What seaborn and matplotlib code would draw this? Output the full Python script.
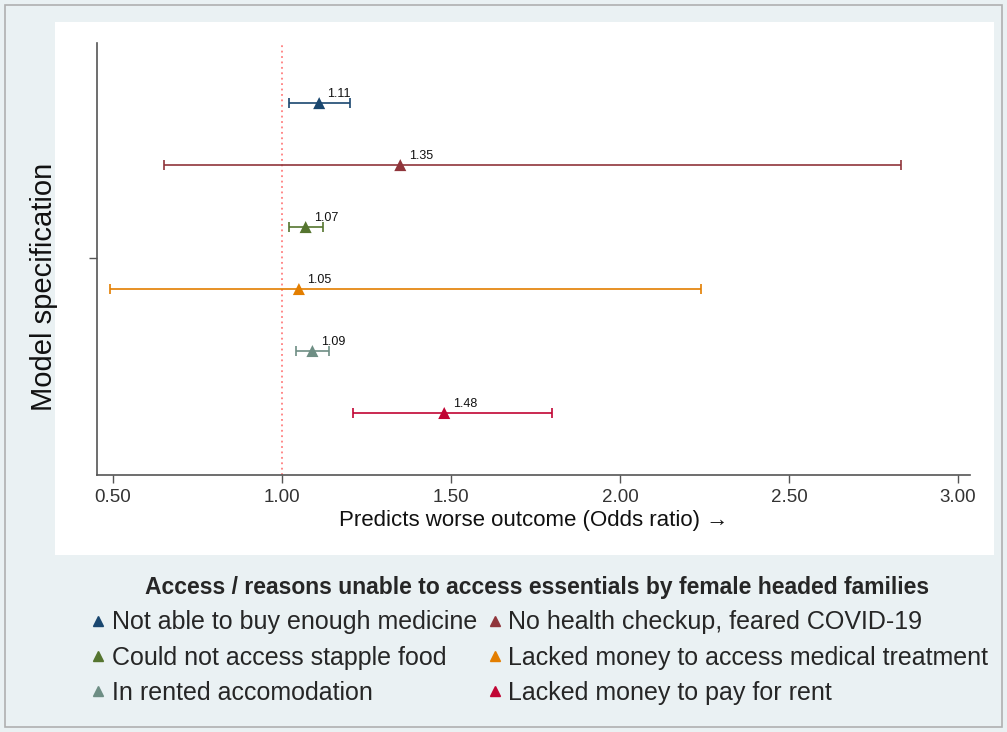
import matplotlib.pyplot as plt
import matplotlib.patches as mpatches
from matplotlib.lines import Line2D
import pandas as pd
import seaborn as sns

categories = ['Not able to buy enough medicine', 'No health checkup, feared COVID-19',
              'Could not access stapple food', 'Lacked money to access medical treatment',
              'In rented accomodation', 'Lacked money to pay for rent']
odds = [1.11, 1.35, 1.07, 1.05, 1.09, 1.48]
ci_low = [1.02, 0.65, 1.02, 0.49, 1.04, 1.21]
ci_high = [1.20, 2.83, 1.12, 2.24, 1.14, 1.80]
colors = ['#1a476f', '#90353b', '#55752f', '#e37e00', '#6e8e84', '#c10534']
xticks = [0.5, 1.0, 1.5, 2.0, 2.5, 3.0]

df = pd.DataFrame({'cat': categories, 'or': odds, 'lo': ci_low, 'hi': ci_high,
                   'row': range(1, len(categories) + 1)})

sns.set_style('white')
plt.rcParams['font.family'] = ['Liberation Sans', 'DejaVu Sans']

fig = plt.figure(figsize=(10.07, 7.32), dpi=100, facecolor='#eaf1f3')
# white panel and outer frame
fig.patches.append(mpatches.Rectangle((55 / 1007, 1 - 555 / 732), 939 / 1007, 533 / 732,
                                      transform=fig.transFigure, facecolor='white',
                                      edgecolor='none', zorder=-2))
fig.patches.append(mpatches.Rectangle((5 / 1007, 5 / 732), 997 / 1007, 722 / 732,
                                      transform=fig.transFigure, facecolor='none',
                                      edgecolor='#b0b0b0', lw=1.2, zorder=-2))

ax = fig.add_axes([97 / 1007, 1 - 475 / 732, 873 / 1007, 432 / 732])
ax.set_facecolor('none')

ax.axvline(1.0, color='#ff7f7f', ls=(0, (1, 2)), lw=1.3, zorder=1)

for _, r in df.iterrows():
    c = colors[r['row'] - 1]
    ax.errorbar(r['or'], r['row'], xerr=[[r['or'] - r['lo']], [r['hi'] - r['or']]],
                fmt='none', ecolor=c, elinewidth=1.2, capsize=3.8, capthick=1.2, zorder=2)
    ax.annotate(f"{r['or']:.2f}", (r['or'], r['row']), xytext=(6, 2),
                textcoords='offset points', ha='left', va='bottom', fontsize=9,
                color='#111111')

sns.scatterplot(data=df, x='or', y='row', hue='cat', palette=colors, marker='^',
                s=75, edgecolor='none', legend=False, ax=ax, zorder=3)

ax.set_xlim(0.4527, 3.0355)
ax.set_ylim(7.0, 0.03)
ax.set_xticks(xticks)
ax.set_xticklabels([f'{t:.2f}' for t in xticks], fontsize=13.5, color='#333333')
ax.set_yticks([3.5])
ax.set_yticklabels([''])
ax.tick_params(axis='both', direction='out', length=6, width=1, color='#555555',
               bottom=True, left=True, pad=4)
for s in ['top', 'right']:
    ax.spines[s].set_visible(False)
for s in ['left', 'bottom']:
    ax.spines[s].set_color('#555555')
    ax.spines[s].set_linewidth(1.2)

ax.set_xlabel('Predicts worse outcome (Odds ratio) \u2192', fontsize=16, color='#111111',
              labelpad=3)
ax.set_ylabel('Model specification', fontsize=21, color='#111111')
ax.yaxis.set_label_coords(-0.045, 0.435)

order = [0, 2, 4, 1, 3, 5]
handles = [Line2D([], [], ls='none', marker='^', color=colors[i], markersize=7)
           for i in order]
labels = [categories[i] for i in order]
leg = fig.legend(handles, labels, ncol=2, loc='upper center',
                 bbox_to_anchor=(537 / 1007, 1 - 566 / 732), frameon=False,
                 title='Access / reasons unable to access essentials by female headed families',
                 fontsize=18, title_fontproperties={'weight': 'bold', 'size': 16.5},
                 handletextpad=0.05, columnspacing=0.2, labelspacing=0.45,
                 handlelength=1.0, borderaxespad=0)

fig.savefig('out.png', dpi=100, facecolor=fig.get_facecolor())
